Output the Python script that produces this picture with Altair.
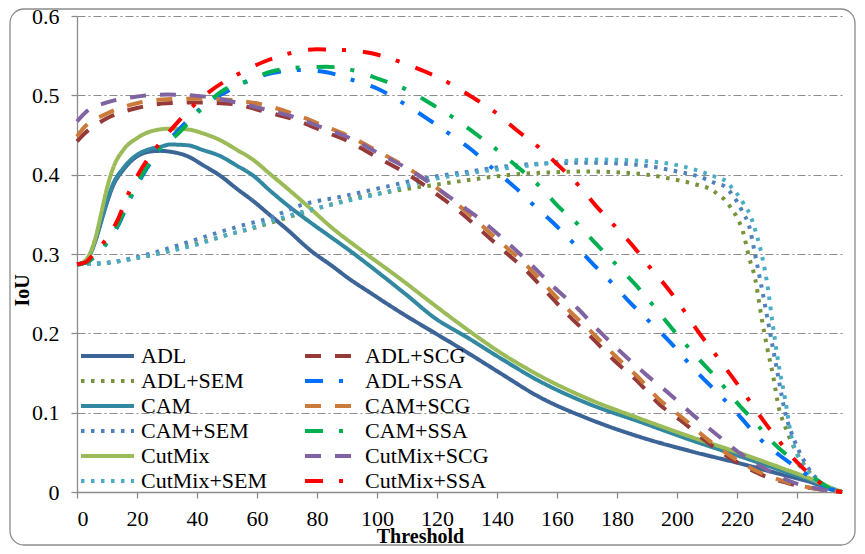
import altair as alt
import pandas as pd

# ---------------- data ----------------
adl_x = [0, 2, 4, 6, 8, 10, 12, 15.4, 20, 24, 27.7, 31, 37, 42, 48, 53, 59, 64, 70, 78, 85, 91, 97, 108, 119, 130, 141, 154, 170, 188, 205, 221, 235, 245, 251, 255]
adl_y = [0.287, 0.289, 0.297, 0.315, 0.340, 0.365, 0.386, 0.406, 0.423, 0.429, 0.430, 0.429, 0.423, 0.412, 0.398, 0.383, 0.366, 0.350, 0.331, 0.304, 0.285, 0.268, 0.253, 0.226, 0.201, 0.176, 0.150, 0.120, 0.093, 0.069, 0.051, 0.036, 0.022, 0.012, 0.004, 0.000]

cam_x = [0, 2, 4, 6, 8, 10, 12, 15.4, 20, 24, 27.7, 31, 37, 42, 48, 53, 59, 64, 70, 77, 84, 91, 102, 110, 119, 130, 141, 154, 170, 188, 205, 221, 235, 245, 251, 255]
cam_y = [0.287, 0.289, 0.297, 0.316, 0.342, 0.367, 0.388, 0.408, 0.425, 0.432, 0.435, 0.438, 0.437, 0.431, 0.423, 0.412, 0.398, 0.381, 0.362, 0.342, 0.323, 0.304, 0.272, 0.248, 0.220, 0.195, 0.169, 0.140, 0.112, 0.088, 0.065, 0.045, 0.027, 0.014, 0.005, 0.000]

cutmix_x = [0, 2, 4, 6, 8, 10, 12, 15.4, 20, 25, 31, 37, 42, 48, 53, 59, 64, 70, 77, 85, 95, 108, 119, 130, 141, 154, 170, 188, 205, 221, 235, 245, 251, 255]
cutmix_y = [0.287, 0.289, 0.298, 0.318, 0.350, 0.383, 0.408, 0.431, 0.446, 0.455, 0.458, 0.457, 0.452, 0.443, 0.432, 0.418, 0.402, 0.383, 0.360, 0.333, 0.304, 0.268, 0.236, 0.205, 0.176, 0.147, 0.118, 0.092, 0.069, 0.049, 0.030, 0.016, 0.006, 0.000]

adl_sem_x = [0, 8, 20, 30, 40, 50, 60, 65, 79, 92, 105, 119, 132, 145, 159, 170, 180, 190, 199, 207, 212, 214, 216, 218, 220, 222, 224, 226, 228, 230, 232, 234, 236, 238, 240, 243, 247, 251, 255]
adl_sem_y = [0.287, 0.288, 0.295, 0.303, 0.313, 0.324, 0.334, 0.340, 0.356, 0.370, 0.379, 0.387, 0.394, 0.400, 0.403, 0.404, 0.403, 0.400, 0.394, 0.387, 0.380, 0.374, 0.368, 0.358, 0.346, 0.328, 0.296, 0.270, 0.224, 0.183, 0.147, 0.105, 0.083, 0.064, 0.049, 0.031, 0.013, 0.004, 0.000]

cam_sem_x = [0, 10, 24, 37, 47, 56, 63, 75, 89, 102, 115, 129, 142, 155, 170, 185, 192, 200, 207, 213, 216, 218, 220, 222, 224, 226, 228, 230, 232, 234, 236, 238, 240, 243, 247, 251, 255]
cam_sem_y = [0.287, 0.289, 0.300, 0.315, 0.327, 0.337, 0.344, 0.362, 0.373, 0.384, 0.395, 0.403, 0.410, 0.414, 0.415, 0.413, 0.410, 0.404, 0.398, 0.389, 0.385, 0.377, 0.366, 0.352, 0.336, 0.300, 0.262, 0.222, 0.181, 0.140, 0.101, 0.076, 0.057, 0.035, 0.015, 0.005, 0.000]

cutmix_sem_x = [0, 8, 20, 30, 40, 50, 60, 63, 76, 89, 103, 116, 129, 143, 156, 165, 175, 185, 190, 200, 207, 213, 216.6, 218.8, 221, 222.7, 224.3, 226, 228, 230, 232, 234, 236, 238, 240, 242, 245, 250, 255]
cutmix_sem_y = [0.287, 0.288, 0.295, 0.303, 0.312, 0.324, 0.335, 0.339, 0.354, 0.366, 0.378, 0.392, 0.401, 0.408, 0.414, 0.418, 0.419, 0.418, 0.417, 0.412, 0.405, 0.397, 0.391, 0.381, 0.371, 0.360, 0.350, 0.331, 0.303, 0.264, 0.209, 0.158, 0.118, 0.072, 0.048, 0.034, 0.019, 0.007, 0.000]

adl_scg_x = [0, 2, 10, 20, 30, 41, 52, 63, 72, 82, 91, 100, 110, 119, 127, 134, 142, 150, 157, 164, 172, 179, 187, 194, 202, 210, 218, 228, 238, 248, 255]
adl_scg_y = [0.442, 0.450, 0.471, 0.484, 0.490, 0.491, 0.489, 0.479, 0.470, 0.455, 0.441, 0.422, 0.401, 0.378, 0.355, 0.332, 0.305, 0.278, 0.250, 0.222, 0.193, 0.166, 0.139, 0.111, 0.088, 0.063, 0.042, 0.022, 0.010, 0.003, 0.000]

cam_scg_x = [0, 2, 10, 20, 30, 41, 52, 61, 72, 82, 91, 100, 110, 119, 127, 134, 142, 150, 157, 164, 172, 179, 187, 194, 202, 210, 218, 228, 238, 248, 255]
cam_scg_y = [0.448, 0.458, 0.477, 0.490, 0.495, 0.496, 0.494, 0.489, 0.477, 0.462, 0.448, 0.430, 0.409, 0.386, 0.362, 0.339, 0.312, 0.285, 0.257, 0.229, 0.200, 0.173, 0.145, 0.117, 0.093, 0.067, 0.045, 0.024, 0.011, 0.003, 0.000]

cutmix_scg_x = [0, 3, 10, 19, 30, 41, 52, 63, 72, 82, 91, 100, 110, 119, 127, 135, 143, 151, 159, 167, 174, 182, 190, 198, 206, 214, 222, 230, 238, 246, 255]
cutmix_scg_y = [0.467, 0.479, 0.491, 0.498, 0.501, 0.499, 0.492, 0.482, 0.473, 0.459, 0.446, 0.428, 0.408, 0.386, 0.364, 0.342, 0.316, 0.288, 0.258, 0.231, 0.203, 0.174, 0.147, 0.122, 0.095, 0.070, 0.046, 0.028, 0.013, 0.005, 0.000]

adl_ssa_x = [0, 3, 6, 9, 14, 17.5, 22, 27, 32.5, 39, 44, 50, 57, 65, 74.3, 83.2, 92.1, 100.4, 108.8, 116.6, 124.3, 131.3, 138.5, 146, 152.1, 158.8, 165.4, 172.1, 178.2, 184.3, 191, 197.7, 202.1, 208.2, 214.9, 221, 227.1, 234.3, 241, 248.8, 255]
adl_ssa_y = [0.287, 0.289, 0.297, 0.309, 0.338, 0.368, 0.400, 0.428, 0.451, 0.476, 0.492, 0.505, 0.518, 0.528, 0.532, 0.529, 0.519, 0.508, 0.490, 0.471, 0.451, 0.432, 0.408, 0.384, 0.362, 0.339, 0.314, 0.287, 0.264, 0.239, 0.214, 0.189, 0.170, 0.145, 0.120, 0.095, 0.069, 0.046, 0.028, 0.007, 0.000]

cam_ssa_x = [0, 3, 6, 9, 14, 17.5, 22, 27, 33.2, 41, 48.2, 56.6, 64.9, 74.3, 83.2, 92.7, 101, 109.9, 117.7, 125.4, 132.7, 140.4, 147.4, 154.3, 160.4, 167.1, 173.2, 179.9, 186, 192.1, 199.9, 207.7, 213.8, 219.9, 226, 232.1, 238.8, 245.4, 252, 255]
cam_ssa_y = [0.287, 0.289, 0.298, 0.310, 0.340, 0.370, 0.402, 0.430, 0.450, 0.481, 0.505, 0.518, 0.530, 0.535, 0.536, 0.531, 0.520, 0.507, 0.490, 0.472, 0.452, 0.430, 0.408, 0.385, 0.360, 0.337, 0.312, 0.286, 0.262, 0.235, 0.199, 0.166, 0.141, 0.113, 0.088, 0.062, 0.040, 0.019, 0.003, 0.000]

cutmix_ssa_x = [0, 3, 5.6, 8.8, 13.8, 17.1, 21.6, 26.6, 32.1, 38.8, 44.3, 53.8, 62.1, 71, 79.9, 89.3, 98.2, 107.1, 116, 123.8, 131.6, 139.3, 146.6, 153.8, 160.4, 167.1, 172.7, 179.3, 184.9, 191, 196.6, 202.1, 207.1, 212.7, 218.2, 223.2, 228.8, 234.3, 240.4, 246.6, 251, 255]
cutmix_ssa_y = [0.287, 0.290, 0.300, 0.314, 0.345, 0.376, 0.408, 0.435, 0.460, 0.487, 0.505, 0.527, 0.542, 0.553, 0.558, 0.557, 0.553, 0.543, 0.530, 0.516, 0.498, 0.479, 0.456, 0.435, 0.412, 0.387, 0.362, 0.335, 0.312, 0.283, 0.258, 0.230, 0.202, 0.174, 0.146, 0.120, 0.090, 0.063, 0.036, 0.015, 0.003, 0.000]

x_ticks = [0, 20, 40, 60, 80, 100, 120, 140, 160, 180, 200, 220, 240]
y_ticks = [0, 0.1, 0.2, 0.3, 0.4, 0.5, 0.6]

# drawing order (later on top); also the legend order (filled column by column)
series = [
    ("ADL", adl_x, adl_y),
    ("ADL+SEM", adl_sem_x, adl_sem_y),
    ("CAM", cam_x, cam_y),
    ("CAM+SEM", cam_sem_x, cam_sem_y),
    ("CutMix", cutmix_x, cutmix_y),
    ("CutMix+SEM", cutmix_sem_x, cutmix_sem_y),
    ("ADL+SCG", adl_scg_x, adl_scg_y),
    ("ADL+SSA", adl_ssa_x, adl_ssa_y),
    ("CAM+SCG", cam_scg_x, cam_scg_y),
    ("CAM+SSA", cam_ssa_x, cam_ssa_y),
    ("CutMix+SCG", cutmix_scg_x, cutmix_scg_y),
    ("CutMix+SSA", cutmix_ssa_x, cutmix_ssa_y),
]

colors = {
    "ADL": "#3C6496", "ADL+SEM": "#77933C", "CAM": "#3288A0", "CAM+SEM": "#4F81BD",
    "CutMix": "#9BBB59", "CutMix+SEM": "#4BACC6", "ADL+SCG": "#953A38", "ADL+SSA": "#0070F8",
    "CAM+SCG": "#CC7A3A", "CAM+SSA": "#00B050", "CutMix+SCG": "#8064A2", "CutMix+SSA": "#FF0000",
}
SOLID = [1, 0]
DOTS = [3.5, 6.5]
DASH = [16, 14]
DASHDOT = [18, 16, 4, 17]
dashes = {
    "ADL": SOLID, "CAM": SOLID, "CutMix": SOLID,
    "ADL+SEM": DOTS, "CAM+SEM": DOTS, "CutMix+SEM": DOTS,
    "ADL+SCG": DASH, "CAM+SCG": DASH, "CutMix+SCG": DASH,
    "ADL+SSA": DASHDOT, "CAM+SSA": DASHDOT, "CutMix+SSA": DASHDOT,
}

rows = []
for name, xs, ys in series:
    for x, y in zip(xs, ys):
        rows.append({"series": name, "Threshold": x, "IoU": y})
df = pd.DataFrame(rows)

legend_order = [s[0] for s in series]

FONT = "Liberation Serif"
GRID = "#8C8C8C"

def make_legend():
    return alt.Legend(
        title=None, orient="none", legendX=4, legendY=329, columns=2,
        symbolType="M-2.2,0H8.4", symbolSize=100, symbolStrokeWidth=4,
        labelFont=FONT, labelFontSize=22, labelColor="black", labelOffset=38,
        labelLimit=400, rowPadding=3, columnPadding=29, padding=0, symbolOffset=0,
    )

lines = alt.Chart(df).mark_line(strokeWidth=4, interpolate="monotone", strokeCap="butt").encode(
    x=alt.X("Threshold:Q", scale=alt.Scale(domain=[0, 255], nice=False, zero=False),
            axis=alt.Axis(values=x_ticks, title="Threshold", grid=False, titleX=343, titleY=44,
                          titleBaseline="middle", titleAlign="center", labelPadding=10)),
    y=alt.Y("IoU:Q", scale=alt.Scale(domain=[0, 0.6], nice=False),
            axis=alt.Axis(values=y_ticks, format=".1~f", title="IoU", grid=True, titleX=-55, titleY=274,
                          titleAngle=270, titleBaseline="middle", titleAlign="center", labelPadding=12)),
    color=alt.Color("series:N", scale=alt.Scale(domain=legend_order, range=[colors[n] for n in legend_order]),
                    legend=make_legend()),
    strokeDash=alt.StrokeDash("series:N", scale=alt.Scale(domain=legend_order, range=[dashes[n] for n in legend_order]),
                              legend=make_legend()),
)

border = alt.Chart(alt.Data(values=[{"k": 1}])).mark_rect(
    fillOpacity=0, stroke="#8C8C8C", strokeWidth=1.3, cornerRadius=14
).encode(x=alt.value(-67), x2=alt.value(778), y=alt.value(-7), y2=alt.value(529))

chart = alt.layer(border, lines).properties(
    width=765, height=476,
    autosize=alt.AutoSizeParams(type="none"),
    padding={"left": 69, "top": 8, "right": 15, "bottom": 54},
    background="white",
).configure_view(stroke=None).configure_axis(
    labelFont=FONT, labelFontSize=22, labelColor="black",
    titleFont=FONT, titleFontSize=20, titleFontWeight="bold", titleColor="black",
    domainColor=GRID, domainWidth=1.3, tickColor=GRID, tickWidth=1.3, tickSize=6,
    gridColor=GRID, gridWidth=1.2, gridDash=[8, 3, 2, 3],
)

chart.save("out.html", embed_options={"renderer": "svg", "actions": False})
